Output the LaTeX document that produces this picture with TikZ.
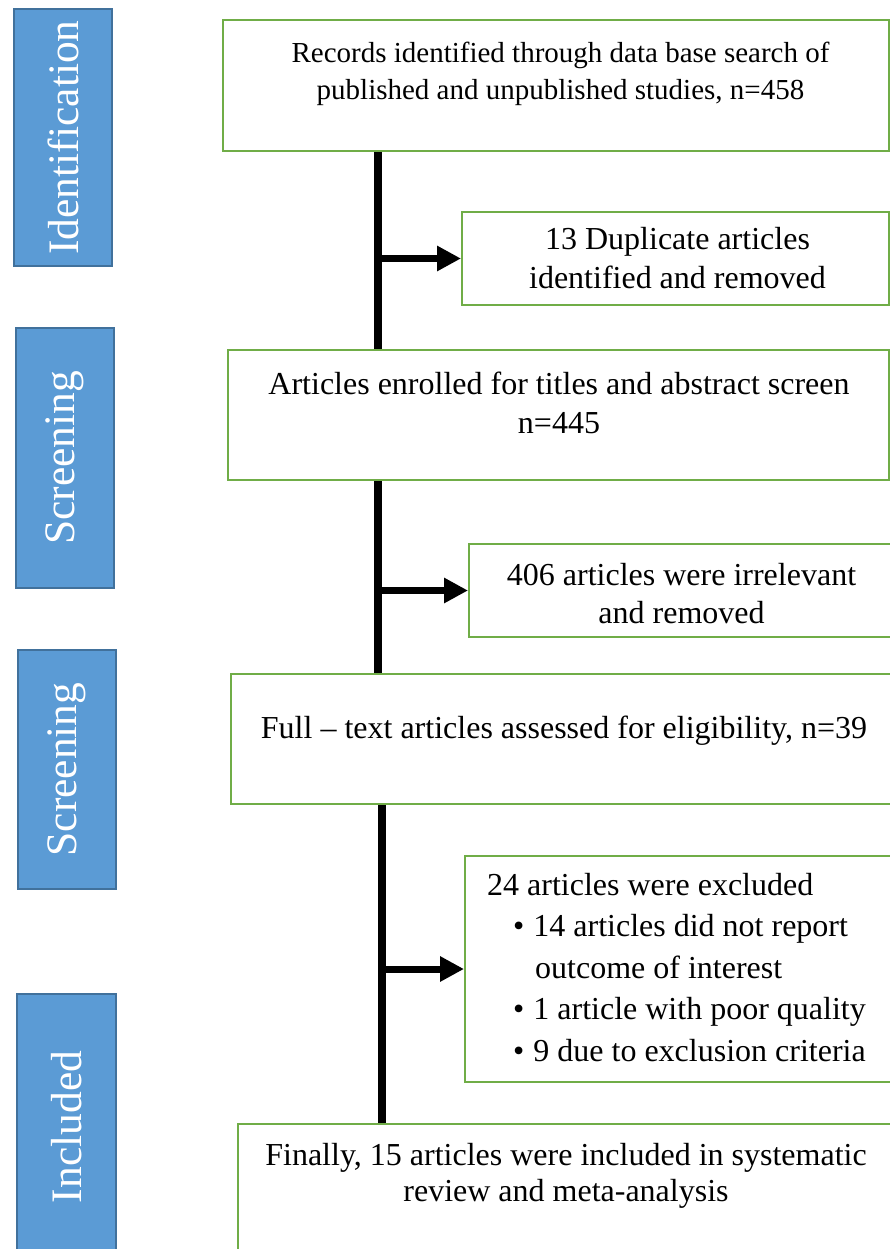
\documentclass[tikz,border=0pt]{standalone}
\usepackage{fontspec}
\setmainfont{Liberation Serif}
\usetikzlibrary{arrows.meta,positioning,calc}

\begin{document}
\begin{tikzpicture}[x=1pt,y=1pt,yscale=-1,xscale=1,
  stagebox/.style={draw={rgb, 255:red, 65; green, 113; blue, 156}, line width=1.5pt,
    fill={rgb, 255:red, 91; green, 155; blue, 213}, text=white, rotate=90,
    font=\fontsize{43.5}{50}\selectfont, inner sep=0pt},
  greenbox/.style={draw={rgb, 255:red, 112; green, 173; blue, 71}, line width=2pt,
    fill=white, anchor=north west, inner sep=0pt},
  boxtext/.style={font=\fontsize{32}{39}\selectfont, align=center, inner sep=0pt, anchor=base},
  trunk/.style={line width=8.5pt},
  branch/.style={line width=7pt, -{Triangle[length=24pt,width=24pt]}}]
%set diagram frame
\useasboundingbox (0,0) rectangle (890,1249);

%Shape: stage labels
\node[stagebox, minimum width=257, minimum height=98] (ident) at (63,137.5) {Identification};
\node[stagebox, minimum width=260, minimum height=98] (screenA) at (65,458) {Screening};
\node[stagebox, minimum width=239, minimum height=98] (screenB) at (67,769.5) {Screening};
\node[stagebox, minimum width=266, minimum height=99] (incl) at (66.5,1127) {Included};

%Shape: Rectangle boxes
\node[greenbox, minimum width=666, minimum height=131] (recs) at (222,19) {};
\node[greenbox, minimum width=427, minimum height=93] (dup) at (461,211) {};
\node[greenbox, minimum width=661, minimum height=130] (enrol) at (227,349) {};
\node[greenbox, minimum width=425, minimum height=93] (irrel) at (468,543) {};
\node[greenbox, minimum width=663, minimum height=130] (full) at (230,673) {};
\node[greenbox, minimum width=429, minimum height=226] (excl) at (464,855) {};
\node[greenbox, minimum width=656, minimum height=140] (final) at (237,1123) {};

% Text Node (anchored at the baseline of the last line)
\node[boxtext, font=\fontsize{29}{37}\selectfont] (recsT) at ($(recs.north)+(4.5,81)$) {Records identified through data base search of\\published and unpublished studies, n=458};
% Text Node
\node[boxtext] (dupT) at ($(dup.north)+(2,77)$) {13 Duplicate articles\\identified and removed};
% Text Node
\node[boxtext] (enrolT) at ($(enrol.north)+(0.5,84)$) {Articles enrolled for titles and abstract screen\\n=445};
% Text Node
\node[boxtext, font=\fontsize{32}{38}\selectfont] (irrelT) at ($(irrel.north)+(0,80)$) {406 articles were irrelevant\\and removed};
% Text Node
\node[boxtext] (fullT) at ($(full.north)+(1.5,65)$) {Full -- text articles assessed for eligibility, n=39};
% Text Node
\node[boxtext, align=left, anchor=base west, font=\fontsize{32}{41.5}\selectfont] (exclT) at ($(excl.north west)+(23,206)$)
  {24 articles were excluded\\
   \hspace*{26pt}\textbullet\hspace{9pt}14 articles did not report\\
   \hspace*{48pt}outcome of interest\\
   \hspace*{26pt}\textbullet\hspace{9pt}1 article with poor quality\\
   \hspace*{26pt}\textbullet\hspace{9pt}9 due to exclusion criteria};
% Text Node
\node[boxtext, font=\fontsize{32}{36}\selectfont] (finalT) at ($(final.north)+(0,78)$) {Finally, 15 articles were included in systematic\\review and meta-analysis};

%Straight Lines
\coordinate (colA) at (378,0);
\coordinate (colB) at (382,0);
\draw[trunk] (recs.south -| colA) -- (enrol.north -| colA);
\draw[trunk] (enrol.south -| colA) -- (full.north -| colA);
\draw[trunk] (full.south -| colB) -- (final.north -| colB);
\draw[branch] (dup.west -| colA) -- (dup.west);
\draw[branch] (irrel.west -| colA) -- (irrel.west);
\draw[branch] (excl.west -| colB) -- (excl.west);

\end{tikzpicture}
\end{document}
